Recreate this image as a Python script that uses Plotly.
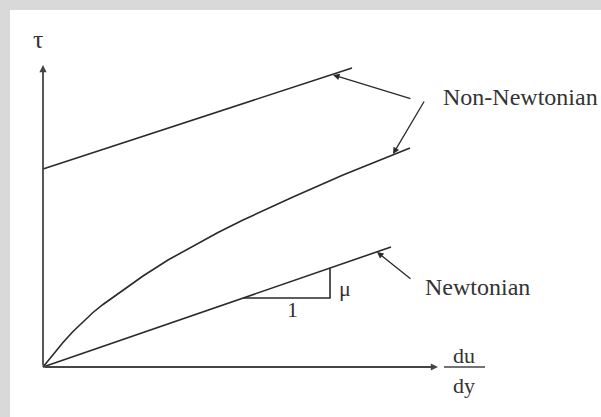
import plotly.graph_objects as go

# Shear rate (du/dy) and shear stress (tau) in drawing units, origin at (0, 0)
newtonian_rate = [0, 348]
newtonian_stress = [0, 120]

plastic_rate = [0, 309]
plastic_stress = [198, 299]

pseudo_rate = [0, 10, 20, 30, 40, 50, 60, 77, 100, 125, 150, 175, 200, 250, 300, 367]
pseudo_stress = [0, 12.5, 24.5, 35.5, 45.5, 54.5, 62.5, 75, 91, 107, 121, 134.5, 147, 170, 192, 219]

axis_len_x = 395
axis_len_y = 302

LINE = "#2a2a2a"
AXIS = "#454545"
FONT = "Liberation Serif"

fig = go.Figure()

for xs, ys in [(newtonian_rate, newtonian_stress),
               (plastic_rate, plastic_stress),
               (pseudo_rate, pseudo_stress)]:
    fig.add_trace(go.Scatter(x=xs, y=ys, mode="lines",
                             line=dict(color=LINE, width=1.6),
                             hoverinfo="skip", showlegend=False))

# slope triangle under the Newtonian line
slope = newtonian_stress[1] / newtonian_rate[1]
run0, run1 = 200, 287
fig.add_trace(go.Scatter(x=[run0, run1, run1],
                         y=[run0 * slope, run0 * slope, run1 * slope],
                         mode="lines", line=dict(color=LINE, width=1.6),
                         hoverinfo="skip", showlegend=False))

annotations = []


def arrow(x0, y0, x1, y1, color=LINE, width=1.3, size=1.0):
    annotations.append(dict(x=x1, y=y1, ax=x0, ay=y0, xref="x", yref="y",
                            axref="x", ayref="y", text="", showarrow=True,
                            arrowhead=2, arrowsize=size, arrowwidth=width,
                            arrowcolor=color))


# coordinate axes
arrow(0, 0, axis_len_x, 0, color=AXIS, width=1.8, size=0.8)
arrow(0, 0, 0, axis_len_y, color=AXIS, width=1.8, size=0.8)

# pointers to the curves
arrow(369, 268, 290, 292)
arrow(382, 267, 350, 213)
arrow(369, 87, 334, 115)


def label(x, y, text, size=24, anchor="center"):
    annotations.append(dict(x=x, y=y, xref="x", yref="y", text=text,
                            showarrow=False, xanchor=anchor, yanchor="middle",
                            font=dict(family=FONT, size=size, color="#333333")))


label(-5, 328, "τ", size=26)
label(398, 270, "Non-Newtonian", anchor="left")
label(380, 80, "Newtonian", anchor="left")
label(302, 79, "μ", size=22)
label(249, 58, "1", size=22)
label(421, 12, "du", size=22)
label(421, -18, "dy", size=22)

fig.add_shape(type="line", x0=401, x1=442, y0=0, y1=0, xref="x", yref="y",
              line=dict(color=AXIS, width=1.6))

# grey frame strips along the top and left edges
frame = "#d9d9d9"
fig.add_shape(type="rect", xref="paper", yref="paper", x0=0, x1=1,
              y0=1 - 10 / 417, y1=1, line=dict(width=0), fillcolor=frame,
              layer="above")
fig.add_shape(type="rect", xref="paper", yref="paper", x0=0, x1=10 / 601,
              y0=0, y1=1, line=dict(width=0), fillcolor=frame, layer="above")

fig.update_layout(
    width=601, height=417,
    margin=dict(l=0, r=0, t=0, b=0),
    paper_bgcolor="white", plot_bgcolor="white",
    xaxis=dict(range=[-43, 558], visible=False, fixedrange=True),
    yaxis=dict(range=[-50, 367], visible=False, fixedrange=True),
    annotations=annotations,
)

fig.write_html("out.html")
